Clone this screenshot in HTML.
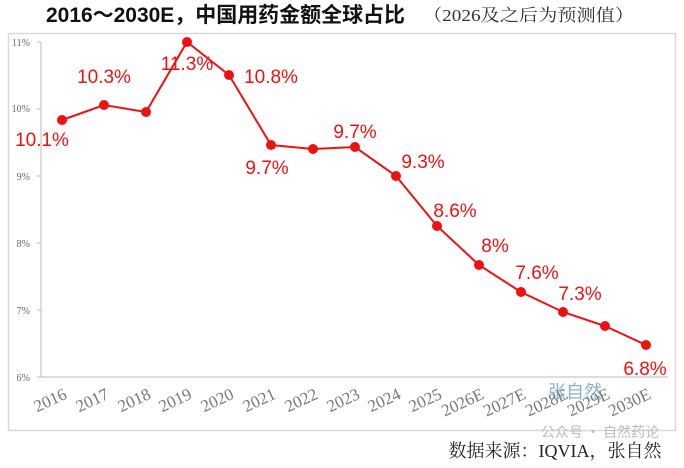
<!DOCTYPE html>
<html><head><meta charset="utf-8"><style>
body{margin:0;background:#fff;width:684px;height:463px;overflow:hidden}
</style></head><body>
<svg width="684" height="463" viewBox="0 0 684 463" xmlns="http://www.w3.org/2000/svg">
<text x="46" y="22" textLength="359" lengthAdjust="spacingAndGlyphs" font-family="Liberation Sans, Noto Sans CJK SC, sans-serif" font-weight="bold" font-size="21" fill="#111">2016～2030E，中国用药金额全球占比</text>
<text x="423" y="21" textLength="211" lengthAdjust="spacingAndGlyphs" font-family="Liberation Serif, Noto Serif CJK SC, serif" font-size="17" fill="#333">（2026及之后为预测值）</text>
<rect x="8.5" y="33.5" width="667" height="397" fill="none" stroke="#d9d9d9" stroke-width="1.5"/>
<g font-family="Liberation Serif, serif" font-size="10" fill="#666" text-anchor="end">
<text x="30" y="46">11%</text><text x="30" y="112">10%</text><text x="30" y="180">9%</text>
<text x="30" y="247">8%</text><text x="30" y="314">7%</text><text x="30" y="381">6%</text>
</g>
<line x1="41" y1="42" x2="41" y2="377" stroke="#bbb"/>
<line x1="37" y1="377" x2="668" y2="377" stroke="#bbb"/>
<g stroke="#bbb"><line x1="37" y1="42" x2="41" y2="42"/><line x1="37" y1="109" x2="41" y2="109"/><line x1="37" y1="176" x2="41" y2="176"/><line x1="37" y1="243" x2="41" y2="243"/><line x1="37" y1="310" x2="41" y2="310"/></g>
<polyline fill="none" stroke="#ee1111" stroke-width="2" points="62,120 104,105 146,112 187,42 229,75 271,145 313,149 355,147 396,176 437,226 479,265 521,292 563,312 605,326 646,345"/>
<g fill="#ee1111">
<circle cx="62" cy="120" r="5"/><circle cx="104" cy="105" r="5"/><circle cx="146" cy="112" r="5"/><circle cx="187" cy="42" r="5"/><circle cx="229" cy="75" r="5"/><circle cx="271" cy="145" r="5"/><circle cx="313" cy="149" r="5"/><circle cx="355" cy="147" r="5"/><circle cx="396" cy="176" r="5"/><circle cx="437" cy="226" r="5"/><circle cx="479" cy="265" r="5"/><circle cx="521" cy="292" r="5"/><circle cx="563" cy="312" r="5"/><circle cx="605" cy="326" r="5"/><circle cx="646" cy="345" r="5"/>
</g>
<g font-family="Liberation Sans, sans-serif" font-size="19" fill="#ee1111" text-anchor="middle">
<text x="42" y="146">10.1%</text><text x="104" y="83">10.3%</text><text x="187" y="70">11.3%</text><text x="271" y="83">10.8%</text>
<text x="267" y="174">9.7%</text><text x="355" y="138">9.7%</text><text x="423" y="168">9.3%</text><text x="455" y="217">8.6%</text>
<text x="495" y="252">8%</text><text x="537" y="279">7.6%</text><text x="580" y="300">7.3%</text><text x="645" y="375">6.8%</text>
</g>
<g font-family="Liberation Serif, serif" font-size="17" fill="#777" text-anchor="end">
<text transform="translate(68,398) rotate(-25)">2016</text>
<text transform="translate(110,398) rotate(-25)">2017</text>
<text transform="translate(152,398) rotate(-25)">2018</text>
<text transform="translate(193,398) rotate(-25)">2019</text>
<text transform="translate(235,398) rotate(-25)">2020</text>
<text transform="translate(277,398) rotate(-25)">2021</text>
<text transform="translate(319,398) rotate(-25)">2022</text>
<text transform="translate(361,398) rotate(-25)">2023</text>
<text transform="translate(402,398) rotate(-25)">2024</text>
<text transform="translate(443,398) rotate(-25)">2025</text>
<text transform="translate(485,398) rotate(-25)">2026E</text>
<text transform="translate(527,398) rotate(-25)">2027E</text>
<text transform="translate(569,398) rotate(-25)">2028E</text>
<text transform="translate(611,398) rotate(-25)">2029E</text>
<text transform="translate(652,398) rotate(-25)">2030E</text>
</g>
<text x="575" y="398" text-anchor="middle" font-family="Noto Sans CJK SC, sans-serif" font-size="18" fill="#6a9fc0" opacity="0.8">张自然</text>
<text x="600" y="437" text-anchor="middle" font-family="Noto Sans CJK SC, sans-serif" font-size="14" fill="#bbb">公众号 · 自然药论</text>
<text x="555" y="457" text-anchor="middle" font-family="Liberation Serif, Noto Serif CJK SC, serif" font-size="18" fill="#222">数据来源：IQVIA，张自然</text>
</svg>
</body></html>
